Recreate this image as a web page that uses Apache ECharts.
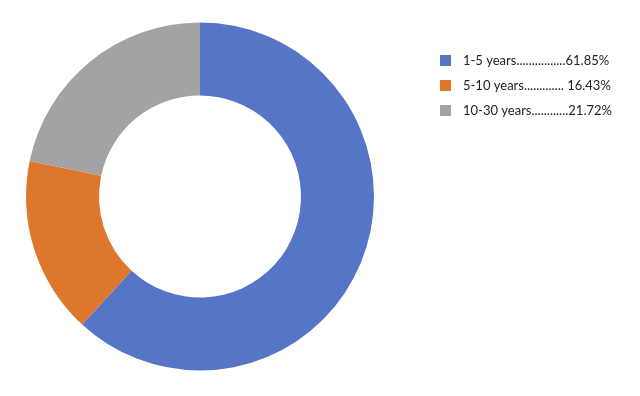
<!DOCTYPE html>
<html><head><meta charset="utf-8">
<script src="https://cdn.jsdelivr.net/npm/echarts@6/dist/echarts.min.js"></script>
<style>html,body{margin:0;padding:0;background:#fff}#c{width:640px;height:396px}</style>
</head><body><div id="c"></div>
<script>
const categories = ['1-5 years', '5-10 years', '10-30 years'];
const values = [61.85, 16.43, 21.72];
const legendLabels = ['1-5 years................61.85%', '5-10 years............. 16.43%', '10-30 years............21.72%'];
const colors = ['#5575C6', '#DC772B', '#A3A3A3'];

const chart = echarts.init(document.getElementById('c'));
chart.setOption({
  animation: false,
  color: colors,
  legend: {
    orient: 'vertical',
    left: 435,
    top: 48,
    itemWidth: 11,
    itemHeight: 11,
    itemGap: 10,
    icon: 'rect',
    textStyle: { fontFamily: 'Lato', fontSize: 13, color: '#222', lineHeight: 15, padding: [0, 0, 0, 7] },
    formatter: function (name) { return legendLabels[categories.indexOf(name)]; },
    data: categories
  },
  series: [{
    type: 'pie',
    center: [200, 196.5],
    radius: [101, 174],
    startAngle: 90,
    clockwise: true,
    label: { show: false },
    labelLine: { show: false },
    itemStyle: { borderColor: '#fff', borderWidth: 0 },
    emphasis: { disabled: true },
    data: categories.map((c, i) => ({ name: c, value: values[i] }))
  }]
});
</script></body></html>
